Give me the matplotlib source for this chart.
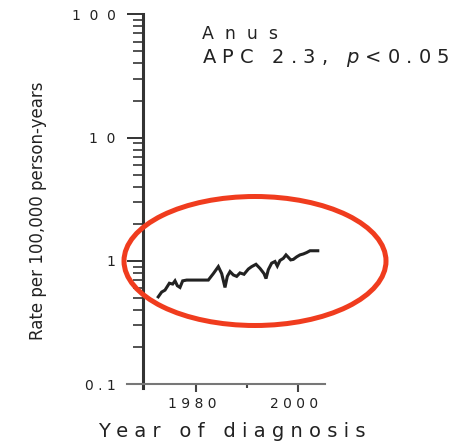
import matplotlib
matplotlib.use("Agg")
import matplotlib.pyplot as plt
from matplotlib.patches import Ellipse
from matplotlib.ticker import FixedLocator, FixedFormatter, LogLocator, NullFormatter
from matplotlib.transforms import ScaledTranslation

# ---- data ----
years = [1972.4, 1973.25, 1973.9, 1974.76, 1975.41, 1975.87, 1976.33, 1976.85,
         1977.38, 1978.17, 1982.42, 1983.41, 1984.39, 1985.05, 1985.70, 1986.16,
         1986.69, 1987.34, 1988.0, 1988.65, 1989.44, 1990.29, 1990.95, 1991.8,
         1992.59, 1993.37, 1993.77, 1994.22, 1994.88, 1995.53, 1995.99, 1996.52,
         1997.17, 1997.7, 1998.16, 1998.62, 1999.14, 1999.8, 2000.45, 2001.11,
         2001.76, 2002.42, 2004.25]
rates = [0.50, 0.56, 0.58, 0.66, 0.65, 0.69, 0.63, 0.61,
         0.69, 0.70, 0.70, 0.79, 0.90, 0.79, 0.61, 0.75,
         0.82, 0.77, 0.75, 0.80, 0.78, 0.86, 0.90, 0.94,
         0.87, 0.79, 0.72, 0.85, 0.96, 0.99, 0.91, 1.01,
         1.05, 1.12, 1.07, 1.02, 1.03, 1.08, 1.12, 1.14,
         1.17, 1.21, 1.21]

y_ticks = [0.1, 1, 10, 100]
y_tick_labels = ["0 . 1", "1", "1  0", "1  0  0"]
x_ticks = [1980, 2000]
x_tick_labels = ["1980", "2000"]
x_minor_ticks = [1990]

site = "Anus"
apc_text = "APC 2.3,"
sig_text = "<0.05"
xlabel = "Year of diagnosis"
ylabel = "Rate per 100,000 person-years"


def spaced(s, sep=" "):
    return sep.join(list(s))


W, H = 468, 442
fig = plt.figure(figsize=(W / 100, H / 100), dpi=100)
plt.rcParams['font.family'] = ['DejaVu Sans']
plt.rcParams['mathtext.fontset'] = 'dejavusans'

left_px, right_px, top_px, bot_px = 126.7, 325.0, 14.3, 384.3
ax = fig.add_axes([left_px / W, 1 - bot_px / H, (right_px - left_px) / W, (bot_px - top_px) / H])
ax.set_facecolor("white")

ax.plot(years, rates, color="#222222", lw=2.2, solid_joinstyle="miter", solid_capstyle="butt")

ax.set_yscale("log")
ax.set_ylim(0.1, 100)
ax.set_xlim(1966.37, 2005.37)

for s in ["top", "right"]:
    ax.spines[s].set_visible(False)
ax.spines["left"].set_position(("data", 1969.52))
ax.spines["left"].set_linewidth(2.2)
ax.spines["left"].set_color("#333333")
ax.spines["left"].set_bounds(0.093, 100)
ax.spines["bottom"].set_linewidth(1.5)
ax.spines["bottom"].set_color("#777777")

# y ticks
ax.yaxis.set_major_locator(FixedLocator(y_ticks))
ax.yaxis.set_major_formatter(FixedFormatter(y_tick_labels))
ax.yaxis.set_minor_locator(LogLocator(base=10, subs=[2, 3, 4, 5, 6, 7, 8, 9]))
ax.yaxis.set_minor_formatter(NullFormatter())
ax.tick_params(axis="y", which="major", direction="out", length=11.5, width=1.4,
               color="#333333", labelsize=10, labelcolor="#222222", pad=8)
ax.tick_params(axis="y", which="minor", direction="out", length=7, width=1.2, color="#333333")

# x ticks
ax.xaxis.set_major_locator(FixedLocator(x_ticks))
ax.xaxis.set_major_formatter(FixedFormatter([spaced(t) for t in x_tick_labels]))
ax.xaxis.set_minor_locator(FixedLocator(x_minor_ticks))
ax.tick_params(axis="x", which="major", direction="out", length=5.8, width=1.5,
               color="#444444", labelsize=10, labelcolor="#222222", pad=3)
ax.tick_params(axis="x", which="minor", direction="out", length=3, width=1.5, color="#444444")
for lbl in ax.get_xticklabels():
    lbl.set_transform(lbl.get_transform() + ScaledTranslation(-4 / 100, 0, fig.dpi_scale_trans))

# texts
fig.text(201.7 / W, 1 - 39.3 / H, spaced(site, "  "), fontsize=12.5, color="#222222",
         ha="left", va="baseline")
fig.text(201.7 / W, 1 - 63.3 / H,
         spaced(apc_text) + "   " + r"$\it{p}$" + " " + spaced(sig_text),
         fontsize=14, color="#222222", ha="left", va="baseline")
fig.text(231.7 / W, 1 - 436.7 / H, spaced(xlabel), fontsize=14, color="#222222",
         ha="center", va="baseline")
fig.text(38 / W, 1 - 211 / H, ylabel, fontsize=12, color="#222222", rotation=90,
         ha="center", va="center")

# red ellipse highlight
fig.add_artist(Ellipse((255 / W, 1 - 261 / H), 262 / W, 129 / H, transform=fig.transFigure,
                       fill=False, edgecolor="#f03c1e", lw=3.6))

fig.savefig("out.png", dpi=100, facecolor="white")
